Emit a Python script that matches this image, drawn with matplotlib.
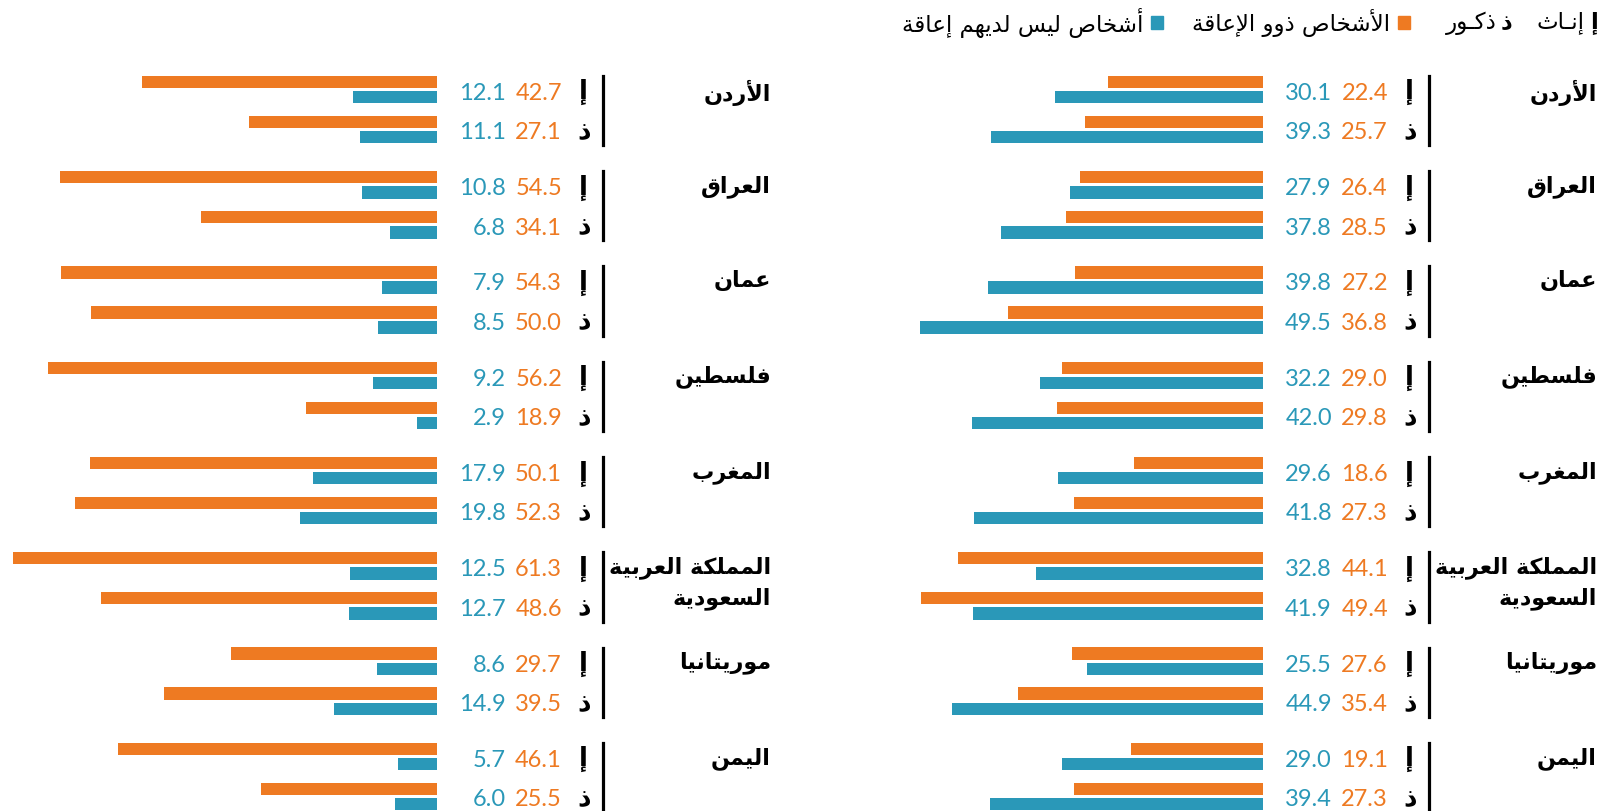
import matplotlib
matplotlib.use("Agg")
import matplotlib.pyplot as plt
import matplotlib.transforms as mtransforms

# ---------------- data ----------------
countries = ["الأردن", "العراق", "عمان", "فلسطين", "المغرب",
             "المملكة العربية\nالسعودية", "موريتانيا", "اليمن"]
# left panel  (orange = with disabilities, blue = without)
left_f_dis = [42.7, 54.5, 54.3, 56.2, 50.1, 61.3, 29.7, 46.1]
left_f_nodis = [12.1, 10.8, 7.9, 9.2, 17.9, 12.5, 8.6, 5.7]
left_m_dis = [27.1, 34.1, 50.0, 18.9, 52.3, 48.6, 39.5, 25.5]
left_m_nodis = [11.1, 6.8, 8.5, 2.9, 19.8, 12.7, 14.9, 6.0]
# right panel
right_f_dis = [22.4, 26.4, 27.2, 29.0, 18.6, 44.1, 27.6, 19.1]
right_f_nodis = [30.1, 27.9, 39.8, 32.2, 29.6, 32.8, 25.5, 29.0]
right_m_dis = [25.7, 28.5, 36.8, 29.8, 27.3, 49.4, 35.4, 27.3]
right_m_nodis = [39.3, 37.8, 49.5, 42.0, 41.8, 41.9, 44.9, 39.4]

gender_labels = ["إ", "ذ"]
legend_female = "إنـاث"
legend_male = "ذكـور"
legend_dis = "الأشخاص ذوو الإعاقة"
legend_nodis = "أشخاص ليس لديهم إعاقة"

ORANGE = "#EE7A22"
BLUE = "#2A98B8"

# ---------------- minimal Arabic shaping ----------------
_BASE = [('\u0621', 0xFE80, 'U'), ('\u0622', 0xFE81, 'R'), ('\u0623', 0xFE83, 'R'),
         ('\u0624', 0xFE85, 'R'), ('\u0625', 0xFE87, 'R'), ('\u0626', 0xFE89, 'D'),
         ('\u0627', 0xFE8D, 'R'), ('\u0628', 0xFE8F, 'D'), ('\u0629', 0xFE93, 'R'),
         ('\u062A', 0xFE95, 'D'), ('\u062B', 0xFE99, 'D'), ('\u062C', 0xFE9D, 'D'),
         ('\u062D', 0xFEA1, 'D'), ('\u062E', 0xFEA5, 'D'), ('\u062F', 0xFEA9, 'R'),
         ('\u0630', 0xFEAB, 'R'), ('\u0631', 0xFEAD, 'R'), ('\u0632', 0xFEAF, 'R'),
         ('\u0633', 0xFEB1, 'D'), ('\u0634', 0xFEB5, 'D'), ('\u0635', 0xFEB9, 'D'),
         ('\u0636', 0xFEBD, 'D'), ('\u0637', 0xFEC1, 'D'), ('\u0638', 0xFEC5, 'D'),
         ('\u0639', 0xFEC9, 'D'), ('\u063A', 0xFECD, 'D'), ('\u0641', 0xFED1, 'D'),
         ('\u0642', 0xFED5, 'D'), ('\u0643', 0xFED9, 'D'), ('\u0644', 0xFEDD, 'D'),
         ('\u0645', 0xFEE1, 'D'), ('\u0646', 0xFEE5, 'D'), ('\u0647', 0xFEE9, 'D'),
         ('\u0648', 0xFEED, 'R'), ('\u0649', 0xFEEF, 'R'), ('\u064A', 0xFEF1, 'D')]
BASE = {c: b for c, b, t in _BASE}
JT = {c: t for c, b, t in _BASE}
JT['\u0640'] = 'C'
LAMALEF = {'\u0622': 0xFEF5, '\u0623': 0xFEF7, '\u0625': 0xFEF9, '\u0627': 0xFEFB}


def _shape_line(text):
    toks = []
    i = 0
    while i < len(text):
        c = text[i]
        if c == '\u0644' and i + 1 < len(text) and text[i + 1] in LAMALEF:
            toks.append(('LA', text[i + 1]))
            i += 2
        else:
            toks.append(('C', c))
            i += 1

    def jt(tok):
        if tok[0] == 'LA':
            return 'R'
        return JT.get(tok[1], 'U')

    out = []
    for k, tok in enumerate(toks):
        t = jt(tok)
        prev = jt(toks[k - 1]) if k > 0 else 'U'
        nxt = jt(toks[k + 1]) if k + 1 < len(toks) else 'U'
        jp = t in ('R', 'D', 'C') and prev in ('D', 'C')
        jn = t in ('D', 'C') and nxt in ('R', 'D', 'C')
        kind, c = tok
        if kind == 'LA':
            out.append(chr(LAMALEF[c] + (1 if jp else 0)))
        elif c not in BASE or t == 'U':
            out.append(c)
        else:
            b = BASE[c]
            if t == 'R':
                out.append(chr(b + (1 if jp else 0)))
            else:
                if jp and jn:
                    out.append(chr(b + 3))
                elif jp:
                    out.append(chr(b + 1))
                elif jn:
                    out.append(chr(b + 2))
                else:
                    out.append(chr(b))
    return ''.join(reversed(out))


def ar(text):
    return '\n'.join(_shape_line(l) for l in text.split('\n'))


# ---------------- layout ----------------
W, H = 1615, 812
PX = 6.92            # pixels per percentage unit
GROUP = 95.3
Y0 = 82.8            # centre of first orange bar (px from top)
BAR_H = 12.4
D_BLUE = 15.2
D_MALE = 40.0

AR_FONT = ['DejaVu Sans']
NUM_FONT = ['Lato', 'DejaVu Sans']

fig = plt.figure(figsize=(W / 100, H / 100), dpi=100)
fig.patch.set_facecolor("white")

panels = [
    (437, left_f_dis, left_f_nodis, left_m_dis, left_m_nodis),
    (1263, right_f_dis, right_f_nodis, right_m_dis, right_m_nodis),
]

for base, f_dis, f_nodis, m_dis, m_nodis in panels:
    span = 437.0
    ax = fig.add_axes([(base - span) / W, 0, span / W, 1])
    ax.set_xlim(span / PX, 0)
    ax.set_ylim(H, 0)
    ax.axis("off")
    n = len(countries)
    yf = [Y0 + i * GROUP for i in range(n)]
    ax.barh(yf, f_dis, height=BAR_H, color=ORANGE, linewidth=0)
    ax.barh([y + D_BLUE for y in yf], f_nodis, height=BAR_H, color=BLUE, linewidth=0)
    ax.barh([y + D_MALE for y in yf], m_dis, height=BAR_H, color=ORANGE, linewidth=0)
    ax.barh([y + D_MALE + D_BLUE for y in yf], m_nodis, height=BAR_H, color=BLUE, linewidth=0)

    tr = mtransforms.blended_transform_factory(fig.transFigure, ax.transData)
    for i in range(n):
        rows = [(yf[i] + 10.5, f_dis[i], f_nodis[i], gender_labels[0]),
                (yf[i] + D_MALE + 10.0, m_dis[i], m_nodis[i], gender_labels[1])]
        for yy, od, bd, g in rows:
            fig.text((base + 125) / W, yy, f"{od:.1f}", transform=tr, ha="right",
                     va="center", color=ORANGE, fontsize=17, family=NUM_FONT,
                     fontweight="normal")
            fig.text((base + 69) / W, yy, f"{bd:.1f}", transform=tr, ha="right",
                     va="center", color=BLUE, fontsize=17, family=NUM_FONT,
                     fontweight="normal")
            fig.text((base + 147) / W, yy - 1, ar(g), transform=tr, ha="center",
                     va="center", color="black", fontsize=19, family=AR_FONT,
                     fontweight="bold")
        fig.add_artist(plt.Line2D([(base + 166) / W] * 2,
                                  [1 - (yf[i] - 6) / H, 1 - (yf[i] + D_MALE + D_BLUE + 8) / H],
                                  color="black", linewidth=2.3))
        name = ar(countries[i])
        fig.text((base + 334) / W, yf[i] - 3, name, transform=tr, ha="right",
                 va="top", color="black", fontsize=16, family=AR_FONT,
                 fontweight="bold", multialignment="right", linespacing=1.5)

# ---------------- legend ----------------
ly = 1 - 23 / H
LFS = 16.5
fig.text(1598 / W, ly, ar(gender_labels[0]), ha="right", va="center", fontsize=LFS,
         fontweight="bold", family=AR_FONT)
fig.text(1585 / W, ly, ar(legend_female), ha="right", va="center", fontsize=LFS, family=AR_FONT)
fig.text(1512 / W, ly, ar(gender_labels[1]), ha="right", va="center", fontsize=LFS,
         fontweight="bold", family=AR_FONT)
fig.text(1497 / W, ly, ar(legend_male), ha="right", va="center", fontsize=LFS, family=AR_FONT)
fig.add_artist(plt.Rectangle((1398 / W, 1 - 29.5 / H), 12 / W, 13 / H, color=ORANGE,
                             transform=fig.transFigure))
fig.text(1390 / W, ly, ar(legend_dis), ha="right", va="center", fontsize=LFS, family=AR_FONT)
fig.add_artist(plt.Rectangle((1151 / W, 1 - 29.5 / H), 12 / W, 13 / H, color=BLUE,
                             transform=fig.transFigure))
fig.text(1143 / W, ly, ar(legend_nodis), ha="right", va="center", fontsize=LFS, family=AR_FONT)

fig.savefig("out.png", dpi=100, facecolor="white")
